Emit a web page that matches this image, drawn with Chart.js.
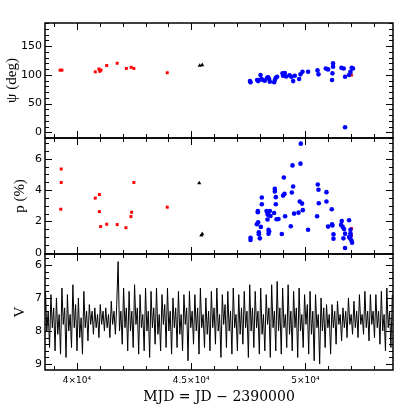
<!DOCTYPE html>
<html>
<head>
<meta charset="utf-8">
<script src="https://cdn.jsdelivr.net/npm/chart.js@4"></script>
<style>
  body { margin: 0; background: #fff; }
  #wrap { position: relative; width: 415px; height: 415px; }
  #wrap canvas { position: absolute; left: 0; top: 0; }
</style>
</head>
<body>
<div id="wrap">
  <canvas id="psi" width="415" height="415"></canvas>
  <canvas id="pol" width="415" height="415"></canvas>
  <canvas id="mag" width="415" height="415"></canvas>
</div>
<script>
// x axis (MJD)
const xTickValues = [40000, 45000, 50000];
const xTickLabels = ['4×10⁴', '4.5×10⁴', '5×10⁴'];

// position angle psi (deg)
const psiRedMjd = [39260, 39340, 40800, 40960, 41000, 41050, 41300, 41760, 42160, 42370, 42490, 43950, 52010];
const psiRed = [108, 108, 105, 110, 106, 108, 116, 120, 111, 113, 111, 103.5, 99.5];
const psiTriMjd = [45370, 45480];
const psiTri = [116, 117];
const psiBlueMjd = [47595, 47570, 47958, 48032, 48075, 47928, 48146, 48320, 48408, 48440,
  48627, 48700, 48760, 48660, 48994, 49095, 49020, 49388, 49460, 49532,
  49720, 49781, 49869, 50114, 50525, 50569, 50888, 50989, 51207, 51207,
  51180, 51163, 51574, 51675, 51732, 51907, 51968, 52025, 52080, 51732,
  47884, 48365, 48220, 49300, 49150];
const psiBlue = [86.9, 89, 90.9, 99.5, 92.6, 89, 90.9, 94.8, 92.6, 88,
  86.9, 94.8, 96.6, 91, 102.4, 103, 98.3, 96.6, 89, 98.3,
  92.6, 100.7, 105.2, 105.2, 107.6, 100.7, 111, 109.3, 119.7, 113.8,
  102.4, 90.9, 112, 111, 96.6, 99.5, 105, 112, 111, 8.6,
  90.9, 95.5, 89.5, 99, 97];

// polarisation p (%)
const pRedMjd = [39310, 39310, 39290, 40800, 40980, 40980, 41035, 41300, 41760, 42140, 42390, 42360, 42490, 43950, 52010, 52010];
const pRed = [5.35, 4.49, 2.78, 3.49, 3.72, 2.63, 1.67, 1.82, 1.8, 1.6, 2.59, 2.31, 4.49, 2.91, 1.55, 1.1];
const pTriMjd = [45350, 45440, 45480];
const pTri = [4.45, 1.11, 1.2];
const pBlueMjd = [49795, 49431, 49781, 49051, 48658, 48658, 48089, 48701, 49081, 49020,
  49401, 49460, 50538, 50569, 50918, 48089, 48701, 49750, 49851, 50582,
  50918, 47914, 47914, 48295, 48440, 48365, 48470, 48627, 49882, 49694,
  49501, 49108, 50508, 51150, 48338, 48731, 48819, 47928, 47871, 48045,
  49357, 50114, 48382, 48411, 48382, 47958, 47958, 48964, 47595, 47595,
  48002, 50989, 51163, 51180, 51225, 51225, 51587, 51557, 51631, 51688,
  51732, 51660, 51732, 51907, 51968, 51968, 51968, 51950, 52010, 52039,
  51907, 48338];
const pBlue = [6.97, 5.58, 5.69, 4.81, 4.08, 3.91, 3.53, 3.55, 3.76, 3.65,
  3.85, 4.23, 4.36, 4.02, 3.87, 3.1, 3.1, 3.27, 3.14, 3.16,
  3.27, 2.67, 2.59, 2.67, 2.67, 2.42, 2.35, 2.54, 2.72, 2.56,
  2.5, 2.33, 2.33, 2.78, 2.12, 2.14, 2.16, 1.95, 1.82, 1.65,
  1.69, 1.47, 1.46, 1.35, 1.22, 1.31, 1.18, 1.2, 0.96, 0.81,
  0.92, 1.67, 1.82, 1.74, 1.18, 0.9, 2.03, 1.78, 1.65, 1.52,
  1.22, 0.92, 0.3, 2.08, 1.47, 1.24, 1.07, 0.92, 0.79, 0.64,
  1.0, 2.47];

// V light curve
const vMjd = [
  38560, 38620, 38680, 38740, 38800, 38860, 38920, 38980, 39040, 39100, 39160, 39220, 39280, 39340, 39400,
  39460, 39520, 39580, 39640, 39700, 39760, 39820, 39880, 39940, 40000, 40060, 40120, 40180, 40240, 40300,
  40360, 40420, 40480, 40540, 40600, 40660, 40720, 40780, 40840, 40900, 40960, 41020, 41080, 41140, 41200,
  41260, 41320, 41380, 41440, 41500, 41560, 41620, 41680, 41740, 41800, 41860, 41920, 41980, 42040, 42100,
  42160, 42220, 42280, 42340, 42400, 42460, 42520, 42580, 42640, 42700, 42760, 42820, 42880, 42940, 43000,
  43060, 43120, 43180, 43240, 43300, 43360, 43420, 43480, 43540, 43600, 43660, 43720, 43780, 43840, 43900,
  43960, 44020, 44080, 44140, 44200, 44260, 44320, 44380, 44440, 44500, 44560, 44620, 44680, 44740, 44800,
  44860, 44920, 44980, 45040, 45100, 45160, 45220, 45280, 45340, 45400, 45460, 45520, 45580, 45640, 45700,
  45760, 45820, 45880, 45940, 46000, 46060, 46120, 46180, 46240, 46300, 46360, 46420, 46480, 46540, 46600,
  46660, 46720, 46780, 46840, 46900, 46960, 47020, 47080, 47140, 47200, 47260, 47320, 47380, 47440, 47500,
  47560, 47620, 47680, 47740, 47800, 47860, 47920, 47980, 48040, 48100, 48160, 48220, 48280, 48340, 48400,
  48460, 48520, 48580, 48640, 48700, 48760, 48820, 48880, 48940, 49000, 49060, 49120, 49180, 49240, 49300,
  49360, 49420, 49480, 49540, 49600, 49660, 49720, 49780, 49840, 49900, 49960, 50020, 50080, 50140, 50200,
  50260, 50320, 50380, 50440, 50500, 50560, 50620, 50680, 50740, 50800, 50860, 50920, 50980, 51040, 51100,
  51160, 51220, 51280, 51340, 51400, 51460, 51520, 51580, 51640, 51700, 51760, 51820, 51880, 51940, 52000,
  52060, 52120, 52180, 52240, 52300, 52360, 52420, 52480, 52540, 52600, 52660, 52720, 52780, 52840, 52900,
  52960, 53020, 53080, 53140, 53200, 53260, 53320, 53380, 53440, 53500, 53560, 53620, 53680, 53740, 53800
];
const vMag = [
  7.9, 6.8, 8.0, 7.4, 8.5, 6.9, 7.9, 7.3, 8.6, 7.0, 8.1, 7.5, 8.7, 6.7, 7.8,
  7.3, 8.8, 6.9, 8.0, 7.5, 8.5, 6.6, 7.9, 7.2, 8.6, 7.0, 8.2, 7.6, 8.7, 6.8,
  7.9, 7.4, 8.3, 7.2, 7.8, 7.4, 8.1, 7.3, 7.9, 7.5, 8.2, 7.2, 7.8, 7.4, 8.0,
  7.3, 7.9, 7.5, 8.2, 7.1, 7.8, 7.4, 8.1, 7.2, 5.9, 8.0, 7.4, 8.4, 6.7, 7.9,
  7.3, 8.6, 6.8, 8.0, 7.4, 8.5, 6.6, 7.8, 7.3, 8.7, 6.9, 7.9, 7.5, 8.6, 6.7,
  8.0, 7.4, 8.8, 6.8, 7.9, 7.3, 8.4, 6.7, 8.1, 7.5, 8.6, 6.9, 7.8, 7.2, 8.5,
  6.7, 8.0, 7.4, 8.7, 7.0, 7.9, 7.3, 8.5, 6.8, 8.1, 7.5, 8.6, 6.9, 7.8, 7.3,
  8.9, 6.8, 7.9, 7.4, 8.4, 6.9, 8.0, 7.3, 8.7, 6.7, 7.9, 7.5, 8.5, 7.0, 8.1,
  7.4, 8.6, 6.8, 7.9, 7.3, 8.4, 6.7, 8.0, 7.5, 8.8, 6.9, 7.8, 7.2, 8.5, 6.8,
  8.0, 7.4, 8.7, 6.7, 7.9, 7.5, 8.6, 6.9, 8.1, 7.3, 8.4, 6.8, 7.9, 7.4, 8.8,
  6.6, 8.0, 7.3, 8.5, 6.8, 7.9, 7.4, 8.7, 6.7, 8.1, 7.5, 8.6, 6.9, 7.8, 7.3,
  8.8, 6.6, 7.9, 7.4, 8.6, 6.5, 8.0, 7.3, 8.7, 6.7, 7.9, 7.5, 8.5, 6.6, 8.1,
  7.4, 8.6, 6.8, 7.9, 7.3, 8.8, 6.7, 8.0, 7.5, 8.5, 6.9, 7.8, 7.2, 8.7, 6.8,
  8.1, 7.4, 8.9, 6.9, 7.9, 7.5, 9.0, 7.0, 8.0, 7.3, 8.5, 7.2, 7.9, 7.5, 8.7,
  7.2, 7.9, 7.4, 8.4, 7.1, 7.8, 7.5, 8.3, 7.3, 7.9, 7.4, 8.2, 7.0, 7.8, 7.5,
  8.1, 7.1, 7.9, 7.4, 8.2, 6.9, 7.8, 7.5, 8.1, 6.8, 7.9, 7.4, 8.3, 6.9, 7.8,
  7.4, 8.2, 6.9, 7.9, 7.4, 8.4, 6.8, 8.0, 7.5, 8.6, 6.7, 7.9, 7.4, 8.5, 6.9
];

const X_MIN = 38600, X_MAX = 53830;
const pts = (xs, ys) => xs.map((x, i) => ({ x: x, y: ys[i] }));

// frame with inward ticks on all four sides, like the original plot
const frameTicks = {
  id: 'frameTicks',
  afterDatasetsDraw(chart, args, o) {
    const { ctx, chartArea: a } = chart;
    const sx = chart.scales.x, sy = chart.scales.y;
    ctx.save();
    ctx.strokeStyle = '#000';
    ctx.lineWidth = 1;
    ctx.beginPath();
    for (let v = Math.ceil(X_MIN / 1000) * 1000; v <= X_MAX; v += 1000) {
      const px = Math.round(sx.getPixelForValue(v)) + 0.5;
      const len = v % 5000 === 0 ? 7 : 4;
      ctx.moveTo(px, a.bottom); ctx.lineTo(px, a.bottom - len);
      ctx.moveTo(px, a.top); ctx.lineTo(px, a.top + len);
    }
    const lo = Math.min(sy.min, sy.max), hi = Math.max(sy.min, sy.max);
    for (let k = Math.ceil(lo / o.minor - 1e-9); k * o.minor <= hi + 1e-9; k++) {
      const v = k * o.minor;
      const r = v / o.major;
      const len = Math.abs(r - Math.round(r)) < 1e-6 ? 7 : 4;
      const py = Math.round(sy.getPixelForValue(v)) + 0.5;
      ctx.moveTo(a.left, py); ctx.lineTo(a.left + len, py);
      ctx.moveTo(a.right, py); ctx.lineTo(a.right - len, py);
    }
    ctx.stroke();
    ctx.lineWidth = 1.5;
    ctx.strokeRect(a.left, a.top, a.right - a.left, a.bottom - a.top);
    ctx.restore();
  }
};

function xScale(show) {
  return {
    type: 'linear', min: X_MIN, max: X_MAX, display: show,
    afterBuildTicks: s => { s.ticks = xTickValues.map(v => ({ value: v })); },
    afterFit: s => { s.height = show ? 45 : 0; },
    grid: { display: false, drawTicks: false }, border: { display: false },
    ticks: {
      padding: 5, maxRotation: 0, autoSkip: false, color: '#000',
      font: { family: 'DejaVu Sans', size: 9 },
      callback: v => xTickLabels[xTickValues.indexOf(v)]
    },
    title: {
      display: show, text: 'MJD = JD − 2390000', color: '#000',
      font: { family: 'DejaVu Serif', size: 14 }, padding: { top: 0, bottom: 9 }
    }
  };
}

function yScale(min, max, reverse, ticks, title, pad) {
  return {
    type: 'linear', min: min, max: max, reverse: reverse,
    afterBuildTicks: s => { s.ticks = ticks.map(v => ({ value: v })); },
    afterFit: s => { s.width = 45; },
    grid: { display: false, drawTicks: false }, border: { display: false },
    ticks: { padding: 3, color: '#000', font: { family: 'DejaVu Sans', size: 11 } },
    title: {
      display: true, text: title, color: '#000',
      font: { family: 'Liberation Serif', size: 15 }, padding: pad
    }
  };
}

function makeChart(id, datasets, y, minor, major, padTop, padBottom, showX) {
  return new Chart(document.getElementById(id), {
    type: 'scatter',
    data: { datasets: datasets },
    options: {
      responsive: false,
      animation: false,
      layout: { padding: { top: padTop, bottom: padBottom, left: 0, right: 22 } },
      scales: { x: xScale(showX), y: y },
      plugins: {
        legend: { display: false },
        tooltip: { enabled: false },
        frameTicks: { minor: minor, major: major }
      }
    },
    plugins: [frameTicks]
  });
}

const blue = { pointStyle: 'circle', pointRadius: 2.3, backgroundColor: '#0000ff', borderWidth: 0 };
const red = { pointStyle: 'rect', pointRadius: 2.1, backgroundColor: '#ff0000', borderWidth: 0 };
const tri = { pointStyle: 'triangle', pointRadius: 2.4, backgroundColor: '#000', borderWidth: 0 };

makeChart('psi', [
  Object.assign({ data: pts(psiBlueMjd, psiBlue) }, blue),
  Object.assign({ data: pts(psiRedMjd, psiRed) }, red),
  Object.assign({ data: pts(psiTriMjd, psiTri) }, tri)
], yScale(-10, 190, false, [0, 50, 100, 150], 'ψ (deg)', { top: 3, bottom: 0 }), 10, 50, 23, 277, false);

makeChart('pol', [
  Object.assign({ data: pts(pBlueMjd, pBlue) }, blue),
  Object.assign({ data: pts(pRedMjd, pRed) }, red),
  Object.assign({ data: pts(pTriMjd, pTri) }, tri)
], yScale(-0.08, 7.33, false, [0, 2, 4, 6], 'p (%)', { top: 11, bottom: 0 }), 0.5, 2, 138, 161, false);

makeChart('mag', [
  { data: pts(vMjd, vMag), showLine: true, borderColor: '#000', borderWidth: 1, pointRadius: 0, tension: 0 }
], yScale(5.67, 9.18, true, [6, 7, 8, 9], 'V', { top: 11, bottom: 0 }), 0.2, 1, 254, 0, true);
</script>
</body>
</html>
